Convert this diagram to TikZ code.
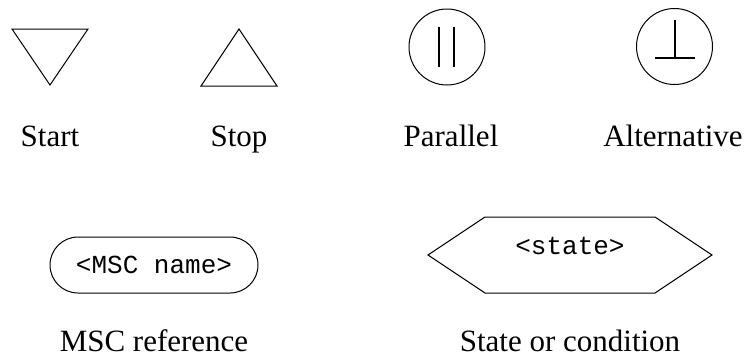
\documentclass[tikz,border=0pt]{standalone}
\usepackage{fontspec}
\setmainfont{Liberation Serif}
\newfontfamily\tagfamily{Liberation Mono}
\usetikzlibrary{shapes.misc,calc}

\begin{document}
\begin{tikzpicture}[
  x=1pt, y=-1pt,
  symbol/.style={
    draw,
    line width=1pt
  },
  bar/.style={
    line width=2pt
  },
  caption/.style={
    anchor=base,
    inner sep=0pt,
    text depth=0pt,
    font=\fontsize{31}{36}\selectfont
  },
  tag/.style={
    inner sep=0pt,
    font=\tagfamily\fontsize{26}{30}\selectfont
  }
]
\useasboundingbox (0,0) rectangle (749,357);

% Start and stop
\draw[symbol] (12,29) -- (88,29) -- (50,85) -- cycle;
\draw[symbol] (201,86) -- (277,86) -- (239,29) -- cycle;
\node[caption] (start) at (50,146) {Start};
\node[caption] (stop) at (239,146) {Stop};

% Parallel and alternative
\node[symbol, circle, minimum size=76pt] (par) at (447,47) {};
\draw[bar] ($(par)+(-8,-20)$) -- ($(par)+(-8,20)$);
\draw[bar] ($(par)+(7,-20)$) -- ($(par)+(7,20)$);
\node[caption] (parlabel) at (451,146) {Parallel};

\node[symbol, circle, minimum size=76pt] (alt) at (674.5,46.5) {};
\draw[bar] ($(alt)+(0,-27)$) -- ($(alt)+(0,11)$);
\draw[bar] ($(alt)+(-20,11)$) -- ($(alt)+(20,11)$);
\node[caption] (altlabel) at (673,146) {Alternative};

% MSC reference
\node[symbol, rounded rectangle, minimum width=208pt, minimum height=56pt,
  tag] (ref) at (154,265) {<MSC name>};
\node[caption] (reflabel) at (154,351) {MSC reference};

% State or condition
\draw[symbol] (428,255) -- (485,217) -- (655,217) -- (712,255)
  -- (655,293) -- (485,293) -- cycle;
\node[tag, anchor=base] (state) at (570,254) {<state>};
\node[caption] (statelabel) at (570,351) {State or condition};

\end{tikzpicture}
\end{document}
